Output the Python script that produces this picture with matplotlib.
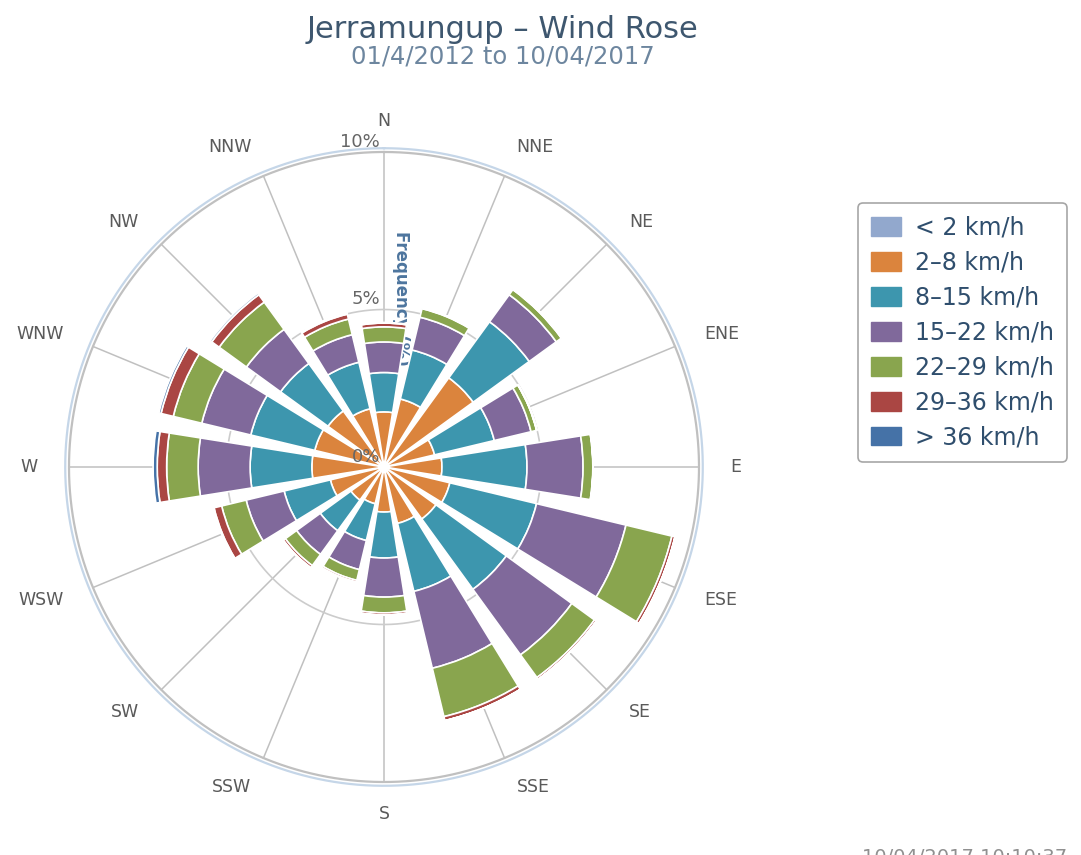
import numpy as np
import matplotlib
matplotlib.use("Agg")
from matplotlib import pyplot as plt
from matplotlib.patches import Patch

directions = ['N', 'NNE', 'NE', 'ENE', 'E', 'ESE', 'SE', 'SSE',
              'S', 'SSW', 'SW', 'WSW', 'W', 'WNW', 'NW', 'NNW']
speed_bins = ['< 2 km/h', '2–8 km/h', '8–15 km/h', '15–22 km/h',
              '22–29 km/h', '29–36 km/h', '> 36 km/h']
colors = ['#92A8CD', '#DB843D', '#3D96AE', '#80699B',
          '#89A54E', '#AA4643', '#4572A7']

# frequency (%) per direction for each speed bin
lt2 = [0.15, 0.15, 0.15, 0.15, 0.15, 0.15, 0.15, 0.15,
       0.15, 0.15, 0.15, 0.15, 0.15, 0.15, 0.15, 0.15]
s2_8 = [1.60, 2.07, 3.35, 1.50, 1.69, 2.00, 1.89, 1.69,
        1.28, 1.05, 1.15, 1.60, 2.14, 2.11, 2.05, 1.75]
s8_15 = [1.25, 1.60, 2.20, 1.95, 2.70, 2.83, 2.76, 2.22,
         1.46, 1.20, 1.20, 1.51, 1.96, 2.09, 1.86, 1.52]
s15_22 = [0.97, 1.07, 1.06, 1.20, 1.78, 2.92, 2.57, 2.51,
          1.24, 0.95, 0.93, 1.24, 1.65, 1.60, 1.34, 0.90]
s22_29 = [0.48, 0.28, 0.20, 0.18, 0.31, 1.50, 0.89, 1.58,
          0.50, 0.35, 0.44, 0.80, 1.00, 0.93, 1.07, 0.51]
s29_36 = [0.12, 0.02, 0.02, 0.01, 0.01, 0.10, 0.07, 0.13,
          0.07, 0.06, 0.08, 0.25, 0.30, 0.40, 0.29, 0.16]
gt36 = [0.02, 0.00, 0.00, 0.00, 0.00, 0.00, 0.00, 0.00,
        0.00, 0.01, 0.02, 0.03, 0.13, 0.07, 0.06, 0.04]

series = [lt2, s2_8, s8_15, s15_22, s22_29, s29_36, gt36]
r_ticks = [0, 5, 10]

W, H = 1081, 855
fig = plt.figure(figsize=(W / 100, H / 100), dpi=100)

cx, cy, R = 384, 467, 315
ax = fig.add_axes([(cx - R) / W, (H - cy - R) / H, 2 * R / W, 2 * R / H],
                  projection='polar')
ax.set_theta_zero_location('N')
ax.set_theta_direction(-1)
ax.set_ylim(0, 10)
ax.axis('off')

theta = np.deg2rad(np.arange(len(directions)) * 22.5)

# grid
for t in theta:
    ax.plot([t, t], [0, 10], color='#c0c0c0', lw=1.1, zorder=1, clip_on=False)
circ = np.linspace(0, 2 * np.pi, 500)
ax.plot(circ, np.full_like(circ, 5), color='#cccccc', lw=1.2, zorder=1)
ax.plot(circ, np.full_like(circ, 10), color='#c0c0c0', lw=1.6, zorder=1, clip_on=False)
ax.plot(circ, np.full_like(circ, 10.12), color='#c5d6e8', lw=1.6, zorder=1, clip_on=False)

# axis title sits behind the bars
ax.text(401 / W, 1 - 298 / H, 'Frequency (%)', transform=fig.transFigure,
        rotation=270, ha='center', va='center', fontsize=12, fontweight='bold',
        color='#4d759e', zorder=1.5)

# stacked bars
bottom = np.zeros(len(directions))
for vals, c in zip(series, colors):
    vals = np.array(vals)
    ax.bar(theta, vals, width=np.deg2rad(18), bottom=bottom, color=c,
           edgecolor='white', linewidth=1.2, zorder=3)
    bottom += vals

# direction labels
for t, name in zip(theta, directions):
    s = np.sin(t)
    if s > 0.1:
        ha = 'left'
    elif s < -0.1:
        ha = 'right'
    else:
        ha = 'center'
    ax.text(t, 11.0, name, ha=ha, va='center', fontsize=12.5, color='#5a5a5a')

# radial tick labels
for r in r_ticks:
    ax.annotate(f'{r}%', xy=(0, r), xytext=(-4, 10), textcoords='offset pixels',
                ha='right', va='center', fontsize=13, color='#666666', zorder=5)

fig.text(502 / W, 1 - 29 / H, 'Jerramungup – Wind Rose', ha='center', va='center',
         fontsize=22, color='#3E576F')
fig.text(503 / W, 1 - 57 / H, '01/4/2012 to 10/04/2017', ha='center', va='center',
         fontsize=17.5, color='#6D869F')

handles = [Patch(facecolor=c, edgecolor=c) for c in colors]
leg = fig.legend(handles, speed_bins, loc='upper left',
                 bbox_to_anchor=(858 / W, 1 - 203 / H), fontsize=17,
                 frameon=True, fancybox=True, edgecolor='#909090',
                 handlelength=1.25, handleheight=0.85, handletextpad=0.6,
                 labelspacing=0.46, borderpad=0.55, borderaxespad=0)
leg.get_frame().set_linewidth(1.2)
for txt in leg.get_texts():
    txt.set_color('#2f4e6d')

# timestamp cut by the bottom edge, as in the source screenshot
fig.text(862 / W, -12 / H, '10/04/2017 10:10:37', ha='left', va='bottom',
         fontsize=14, color='#909090')

fig.savefig('out.png', dpi=100, facecolor='white')
